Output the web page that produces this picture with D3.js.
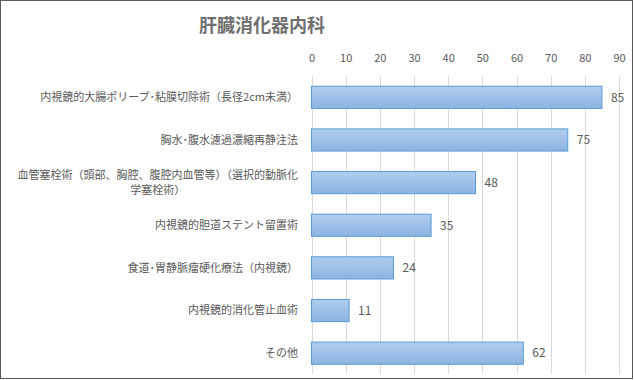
<!DOCTYPE html>
<html>
<head>
<meta charset="utf-8">
<script src="https://cdn.jsdelivr.net/npm/d3@7"></script>
<style>
  body { margin: 0; background: #fff; }
  text { font-family: "Noto Sans CJK JP", sans-serif; }
</style>
</head>
<body>
<div id="chart"></div>
<script>
const categories = [
  "内視鏡的大腸ポリープ･粘膜切除術（長径2cm未満）",
  "胸水･腹水濾過濃縮再静注法",
  "血管塞栓術（頭部、胸腔、腹腔内血管等）（選択的動脈化学塞栓術）",
  "内視鏡的胆道ステント留置術",
  "食道･胃静脈瘤硬化療法（内視鏡）",
  "内視鏡的消化管止血術",
  "その他"
];
const values = [85, 75, 48, 35, 24, 11, 62];
const tickValues = [0, 10, 20, 30, 40, 50, 60, 70, 80, 90];

const width = 634;
const height = 380;
const margin = { top: 76, right: 15, bottom: 6, left: 311.5 };

const svg = d3.select("#chart")
  .append("svg")
  .attr("width", width)
  .attr("height", height);

// outer border
svg.append("rect")
  .attr("x", 0.5).attr("y", 0.5)
  .attr("width", width - 2).attr("height", height - 2)
  .style("fill", "#fff")
  .style("stroke", "#595959");

const defs = svg.append("defs");
const grad = defs.append("linearGradient")
  .attr("id", "barGrad")
  .attr("x1", 0).attr("y1", 0).attr("x2", 0).attr("y2", 1);
grad.append("stop").attr("offset", "0%").attr("stop-color", "#b1cdec");
grad.append("stop").attr("offset", "100%").attr("stop-color", "#8cb3e2");

const x = d3.scaleLinear()
  .domain([0, 90])
  .range([margin.left, 619]);

const y = d3.scaleBand()
  .domain(categories)
  .range([margin.top, 374.5])
  .paddingInner(0.48)
  .paddingOuter(0.24);

// title
svg.append("text")
  .attr("x", 262)
  .attr("y", 32)
  .attr("text-anchor", "middle")
  .style("font-size", "18px")
  .style("font-weight", "bold")
  .style("fill", "#6f6f6f")
  .text("肝臓消化器内科");

// gridlines
svg.append("g")
  .selectAll("line")
  .data(tickValues)
  .join("line")
  .attr("x1", d => Math.round(x(d)) + 0.5)
  .attr("x2", d => Math.round(x(d)) + 0.5)
  .attr("y1", margin.top)
  .attr("y2", 374)
  .style("stroke", "#d9d9d9")
  .style("stroke-width", 1);

// top axis
const axis = svg.append("g")
  .attr("transform", `translate(0, ${margin.top - 14})`)
  .call(d3.axisTop(x).tickValues(tickValues).tickSize(0).tickPadding(0));
axis.select(".domain").remove();
axis.selectAll("text")
  .style("font-family", "\"Noto Sans CJK JP\", sans-serif")
  .style("font-size", "11px")
  .style("fill", "#595959");

// bars
svg.append("g")
  .selectAll("rect")
  .data(values)
  .join("rect")
  .attr("x", x(0))
  .attr("y", (d, i) => y(categories[i]))
  .attr("width", d => x(d) - x(0))
  .attr("height", y.bandwidth())
  .style("fill", "url(#barGrad)")
  .style("stroke", "#5b9bd5")
  .style("stroke-width", 1);

// data labels
svg.append("g")
  .selectAll("text")
  .data(values)
  .join("text")
  .attr("x", d => x(d) + 9)
  .attr("y", (d, i) => y(categories[i]) + y.bandwidth() / 2)
  .attr("dy", "0.36em")
  .style("font-size", "12px")
  .style("fill", "#595959")
  .text(d => d);

// category labels (wrap long ones)
const labelRight = 298;
const maxLabelWidth = 290;
const labelSize = "11px";
const labels = svg.append("g");

categories.forEach((c, i) => {
  const cy = y(c) + y.bandwidth() / 2;
  const t = labels.append("text")
    .attr("x", labelRight)
    .attr("y", cy)
    .attr("dy", "0.36em")
    .attr("text-anchor", "end")
    .style("font-size", labelSize)
    .style("fill", "#595959")
    .text(c);

  if (t.node().getComputedTextLength() > maxLabelWidth) {
    const chars = Array.from(c);
    let line1 = "";
    let k = 0;
    while (k < chars.length) {
      t.text(line1 + chars[k]);
      if (t.node().getComputedTextLength() > maxLabelWidth) break;
      line1 += chars[k];
      k++;
    }
    const line2 = chars.slice(k).join("");
    t.text(line1);
    const w1 = t.node().getComputedTextLength();
    const lh = 15;
    t.attr("y", cy - lh / 2);
    labels.append("text")
      .attr("x", labelRight - w1 / 2)
      .attr("y", cy + lh / 2)
      .attr("dy", "0.36em")
      .attr("text-anchor", "middle")
      .style("font-size", labelSize)
      .style("fill", "#595959")
      .text(line2);
  }
});
</script>
</body>
</html>
